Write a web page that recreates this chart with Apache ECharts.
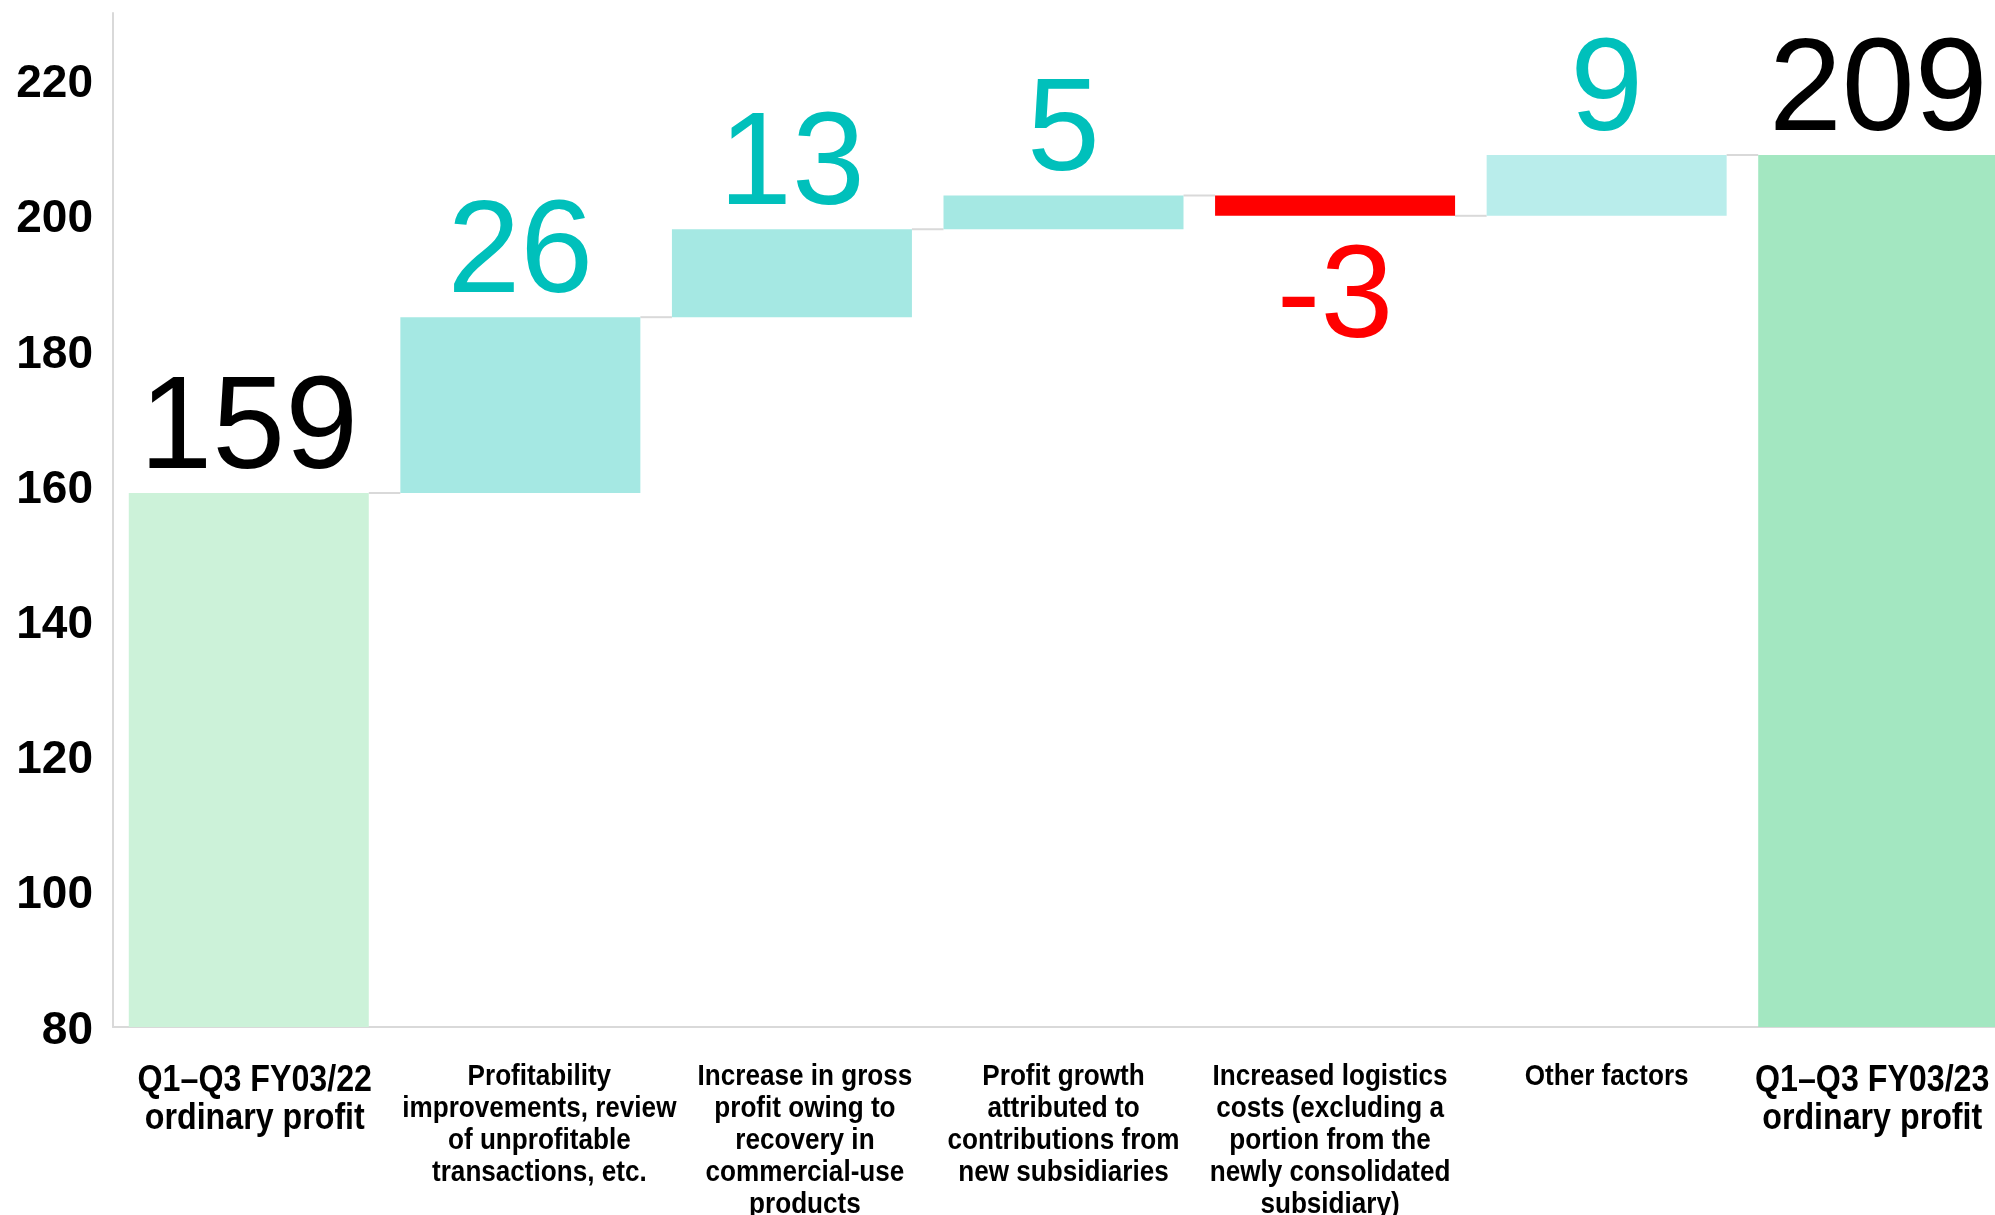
<!DOCTYPE html>
<html>
<head>
<meta charset="utf-8">
<script src="https://cdn.jsdelivr.net/npm/echarts@6/dist/echarts.min.js"></script>
<style>html,body{margin:0;padding:0;background:#fff;}#chart{width:1995px;height:1215px;}</style>
</head>
<body>
<div id="chart"></div>
<script>
const categories = [
  "Q1\u2013Q3 FY03/22\nordinary profit",
  "Profitability\nimprovements, review\nof unprofitable\ntransactions, etc.",
  "Increase in gross\nprofit owing to\nrecovery in\ncommercial-use\nproducts",
  "Profit growth\nattributed to\ncontributions from\nnew subsidiaries",
  "Increased logistics\ncosts (excluding a\nportion from the\nnewly consolidated\nsubsidiary)",
  "Other factors",
  "Q1\u2013Q3 FY03/23\nordinary profit"
];
const changes = [159, 26, 13, 5, -3, 9, 209];
const isTotal = [true, false, false, false, false, false, true];
const barColors = ["#ccf2d9", "#a5e8e3", "#a5e8e3", "#a5e8e3", "#ff0000", "#b9edeb", "#a3e7c1"];
const labelColors = ["#000000", "#00c0bb", "#00c0bb", "#00c0bb", "#ff0000", "#00c0bb", "#000000"];
const yMin = 80, yMax = 230, yStep = 20;

// derive waterfall pieces
const bases = [], heights = [], levels = [];
let running = 0;
changes.forEach((v, i) => {
  if (isTotal[i]) { bases.push(0); heights.push(v); running = v; }
  else if (v >= 0) { bases.push(running); heights.push(v); running += v; }
  else { running += v; bases.push(running); heights.push(-v); }
  levels.push(running);
});
const connectorData = levels.slice(0, levels.length - 1).map((v, i) => [i, v]);
const labelData = categories.map((c, i) => [i, yMin]);

// layout (pixel styling, not data)
const BAR_W = 240;
const LABEL_DX = [6, 19, 13, 0, -5, 0, -6];
const sans = '"Liberation Sans",Arial,sans-serif';

const chart = echarts.init(document.getElementById('chart'), null, {renderer: 'canvas'});
chart.setOption({
  animation: false,
  backgroundColor: '#ffffff',
  grid: {left: 113, width: 1901, top: 13, bottom: 188, containLabel: false, outerBoundsMode: 'none'},
  xAxis: {
    type: 'category',
    data: categories,
    axisLine: {lineStyle: {color: '#d9d9d9', width: 2}},
    axisTick: {show: false},
    axisLabel: {show: false}
  },
  yAxis: {
    type: 'value',
    min: yMin, max: yMax, interval: yStep,
    splitLine: {show: false},
    axisTick: {show: false},
    axisLine: {show: true, lineStyle: {color: '#d9d9d9', width: 2}},
    axisLabel: {
      showMaxLabel: false,
      margin: 20,
      formatter: '{a|{value}}',
      rich: {
        a: {
          fontFamily: sans,
          fontWeight: 'bold',
          fontSize: 46,
          color: '#000',
          padding: [8, 0, 0, 0]
        }
      }
    }
  },
  series: [
    {
      type: 'bar', stack: 'w', barWidth: BAR_W, silent: true,
      itemStyle: {color: 'transparent'},
      data: bases
    },
    {
      type: 'bar', stack: 'w', barWidth: BAR_W, silent: true,
      data: heights.map((h, i) => ({
        value: h,
        itemStyle: {color: barColors[i]},
        label: {
          show: true,
          position: changes[i] < 0 ? 'bottom' : 'top',
          distance: changes[i] < 0 ? 20 : -4,
          formatter: String(changes[i]),
          color: labelColors[i],
          fontFamily: sans,
          fontSize: 131
        }
      }))
    },
    {
      type: 'custom', silent: true, z: 1,
      encode: {x: 0, y: 1},
      data: connectorData,
      renderItem: function (params, api) {
        const p = api.coord([api.value(0), api.value(1)]);
        const band = api.size([1, 0])[0];
        const half = BAR_W / 2;
        return {
          type: 'line',
          shape: {x1: p[0] + half, y1: p[1], x2: p[0] + band - half, y2: p[1]},
          style: {stroke: '#d9d9d9', lineWidth: 2}
        };
      }
    },
    {
      type: 'custom', silent: true, clip: false,
      encode: {x: 0, y: 1},
      data: labelData,
      renderItem: function (params, api) {
        const i = api.value(0);
        const p = api.coord([i, api.value(1)]);
        const big = isTotal[i];
        return {
          type: 'text',
          x: p[0] + LABEL_DX[i], y: p[1] + (big ? 35 : 34),
          scaleX: 0.87,
          style: {
            text: categories[i],
            fill: '#000',
            fontFamily: sans,
            fontWeight: 'bold',
            fontSize: big ? 37 : 30,
            lineHeight: big ? 38 : 32,
            align: 'center',
            verticalAlign: 'top'
          }
        };
      }
    }
  ]
});
</script>
</body>
</html>
